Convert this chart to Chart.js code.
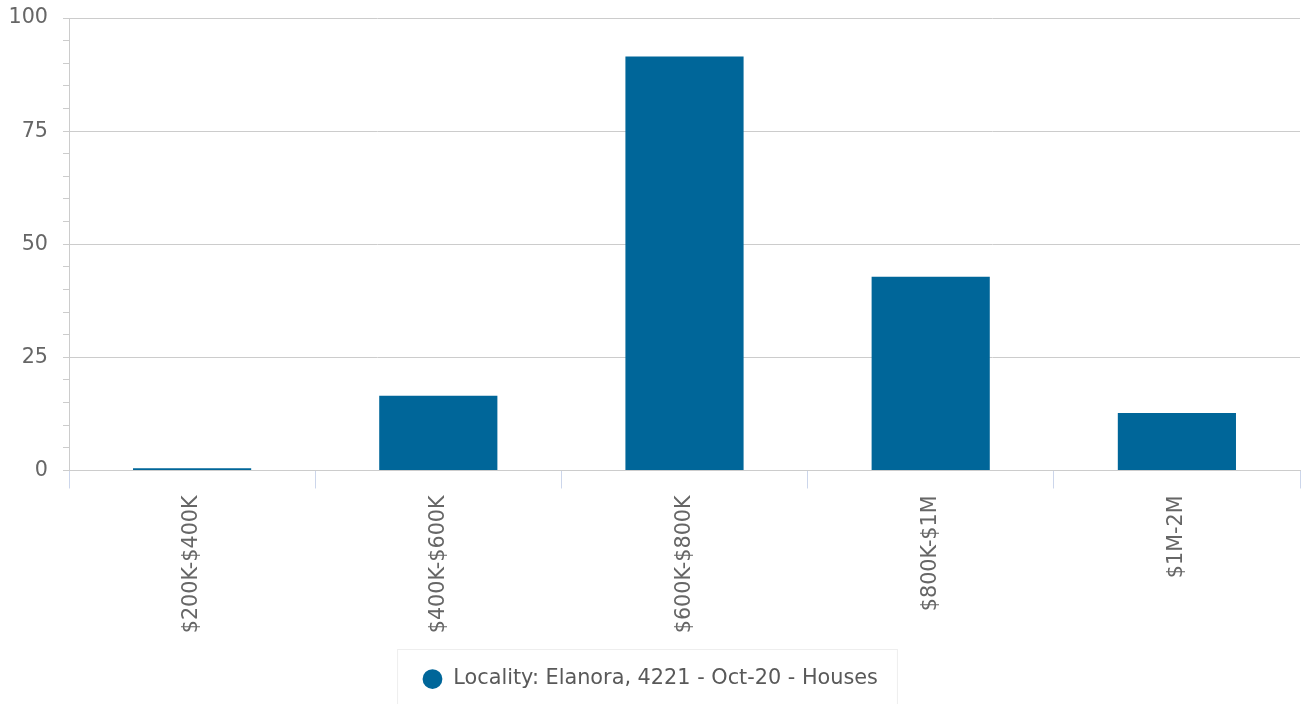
<!DOCTYPE html>
<html>
<head>
<meta charset="utf-8">
<script src="https://cdn.jsdelivr.net/npm/chart.js@4"></script>
<style>
  body { margin: 0; background: #fff; }
  #wrap { width: 1301px; height: 704px; }
</style>
</head>
<body>
<div id="wrap"><canvas id="priceChart"></canvas></div>
<script>
const categories = ['$200K-$400K', '$400K-$600K', '$600K-$800K', '$800K-$1M', '$1M-2M'];
const counts = [0.5, 16.5, 91.5, 42.8, 12.7];
const seriesName = 'Locality: Elanora, 4221 - Oct-20 - Houses';
const yTicks = [0, 25, 50, 75, 100];

const fontFamily = '"DejaVu Sans", Verdana, sans-serif';

// draws the thin box round the legend
const legendBox = {
    id: 'legendBox',
    afterDraw(chart) {
        const box = chart.legend.legendHitBoxes[0];
        if (!box) return;
        const c = chart.ctx;
        c.save();
        c.strokeStyle = '#eeeeee';
        c.lineWidth = 1;
        c.strokeRect(box.left - 24.5, 649.5, box.width + 44, 80);
        c.restore();
    }
};

var ctx = document.getElementById('priceChart').getContext('2d');

const priceChart = new Chart(ctx, {
    type: 'bar',
    data: {
        labels: categories,
        datasets: [{
            label: seriesName,
            data: counts,
            backgroundColor: '#006699',
            borderWidth: 0,
            barPercentage: 0.48,
            categoryPercentage: 1
        }]
    },
    options: {
        responsive: true,
        maintainAspectRatio: false,
        animation: false,
        layout: {
            padding: { top: 18, right: 1, left: 0, bottom: 4.5 }
        },
        plugins: {
            tooltip: { enabled: false },
            legend: {
                position: 'bottom',
                labels: {
                    usePointStyle: true,
                    pointStyle: 'circle',
                    boxHeight: 14,
                    color: '#595959',
                    padding: 28.5,
                    font: { family: fontFamily, size: 20.8 }
                }
            }
        },
        scales: {
            x: {
                offset: true,
                border: { color: '#cccccc', width: 1 },
                grid: {
                    offset: true,
                    drawOnChartArea: false,
                    tickLength: 18,
                    tickColor: '#ccd6eb'
                },
                ticks: {
                    color: '#666666',
                    minRotation: 90,
                    maxRotation: 90,
                    padding: 7,
                    font: { family: fontFamily, size: 20.7 }
                }
            },
            y: {
                min: 0,
                max: 100,
                afterFit: s => { s.width = 69; s.paddingTop = 0; s.paddingBottom = 0; },
                border: { color: '#cccccc', width: 1 },
                grid: {
                    color: c => yTicks.includes(c.tick.value) ? '#cccccc' : 'rgba(0,0,0,0)',
                    tickColor: '#cccccc',
                    tickLength: 6
                },
                ticks: {
                    stepSize: 5,
                    autoSkip: false,
                    color: '#666666',
                    padding: 15,
                    font: { family: fontFamily, size: 20.7 },
                    callback: v => yTicks.includes(v) ? v : ''
                }
            }
        }
    },
    plugins: [legendBox]
});
</script>
</body>
</html>
